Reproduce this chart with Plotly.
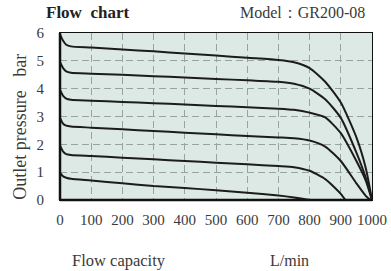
import plotly.graph_objects as go

# Flow capacity (L/min) and outlet pressure (bar) for each set pressure curve
x_6bar = [0, 10, 20, 35, 100, 200, 300, 400, 500, 600, 700, 750, 800, 850, 900, 950, 980, 1000]
p_6bar = [5.95, 5.72, 5.58, 5.52, 5.48, 5.41, 5.34, 5.26, 5.19, 5.11, 5.03, 4.95, 4.74, 4.25, 3.5, 2.25, 1.15, 0]

x_5bar = [0, 10, 20, 35, 100, 200, 300, 400, 500, 600, 700, 750, 800, 850, 900, 950, 980, 1000]
p_5bar = [4.95, 4.74, 4.62, 4.57, 4.54, 4.50, 4.45, 4.40, 4.35, 4.30, 4.25, 4.18, 4.0, 3.62, 2.95, 1.7, 0.8, 0]

x_4bar = [0, 10, 20, 35, 100, 200, 300, 400, 500, 600, 700, 750, 800, 850, 900, 950, 980, 1000]
p_4bar = [3.95, 3.74, 3.64, 3.60, 3.57, 3.52, 3.48, 3.43, 3.38, 3.33, 3.28, 3.24, 3.14, 2.97, 2.4, 1.4, 0.7, 0]

x_3bar = [0, 10, 20, 35, 100, 200, 300, 400, 500, 600, 700, 750, 800, 850, 900, 950, 980, 995]
p_3bar = [2.95, 2.74, 2.67, 2.64, 2.60, 2.54, 2.48, 2.42, 2.36, 2.30, 2.25, 2.22, 2.14, 1.92, 1.4, 0.6, 0.15, 0]

x_2bar = [0, 10, 20, 35, 100, 200, 300, 400, 500, 600, 700, 750, 800, 850, 880, 900, 915]
p_2bar = [1.95, 1.74, 1.65, 1.62, 1.58, 1.52, 1.46, 1.40, 1.34, 1.28, 1.22, 1.18, 1.05, 0.75, 0.45, 0.22, 0]

x_1bar = [0, 10, 20, 35, 100, 200, 300, 400, 500, 600, 700, 750, 800]
p_1bar = [0.97, 0.85, 0.80, 0.76, 0.70, 0.60, 0.50, 0.43, 0.35, 0.26, 0.16, 0.09, 0]

x_ticks = [0, 100, 200, 300, 400, 500, 600, 700, 800, 900, 1000]
y_ticks = [0, 1, 2, 3, 4, 5, 6]

series = [(x_6bar, p_6bar), (x_5bar, p_5bar), (x_4bar, p_4bar),
          (x_3bar, p_3bar), (x_2bar, p_2bar), (x_1bar, p_1bar)]

FONT = "Liberation Serif"
TXT = "#3a3a3a"

fig = go.Figure()
for xs, ps in series:
    fig.add_trace(go.Scatter(x=xs, y=ps, mode="lines",
                             line=dict(color="#1c1c1c", width=2, shape="spline", smoothing=0.6),
                             showlegend=False, hoverinfo="skip"))

grid = dict(showgrid=True, gridcolor="#98a29e", gridwidth=1, griddash="7px,4px")

fig.update_layout(
    width=391, height=271,
    margin=dict(l=60, r=19, t=33, b=71, autoexpand=False),
    paper_bgcolor="white",
    plot_bgcolor="#dde9e4",
    font=dict(family=FONT, color=TXT, size=14),
    xaxis=dict(range=[0, 1000], tickvals=x_ticks, ticktext=[str(v) for v in x_ticks],
               showline=True, linecolor="#111", linewidth=1, mirror=True, automargin=False,
               ticks="", ticklabelstandoff=6, zeroline=False,
               tickfont=dict(family=FONT, size=15, color=TXT), **grid),
    yaxis=dict(range=[0, 6], tickvals=y_ticks, ticktext=[str(v) for v in y_ticks],
               showline=True, linecolor="#111", linewidth=1, mirror=True, automargin=False,
               ticks="", ticklabelstandoff=12, zeroline=False,
               tickfont=dict(family=FONT, size=15, color=TXT), **grid),
    shapes=[
        dict(type="line", xref="paper", yref="paper", x0=0, x1=0, y0=0, y1=1,
             line=dict(color="#111", width=2.5)),
        dict(type="line", xref="paper", yref="paper", x0=0, x1=1, y0=0, y1=0,
             line=dict(color="#111", width=2.5)),
    ],
    annotations=[
        dict(text="<b>Flow  chart</b>", xref="paper", yref="paper", x=-0.05, y=1.125,
             xanchor="left", yanchor="middle", showarrow=False,
             font=dict(family=FONT, size=17, color="#222")),
        dict(text="Model：GR200-08", xref="paper", yref="paper", x=0.985, y=1.12,
             xanchor="right", yanchor="middle", showarrow=False,
             font=dict(family=FONT, size=16, color=TXT)),
        dict(text="Outlet pressure&nbsp;&nbsp;&nbsp;bar", xref="paper", yref="paper",
             x=-0.131, y=0.44, textangle=-90, xanchor="center", yanchor="middle",
             showarrow=False, font=dict(family=FONT, size=18, color=TXT)),
        dict(text="Flow capacity", xref="paper", yref="paper", x=0.19, y=-0.36,
             xanchor="center", yanchor="middle", showarrow=False,
             font=dict(family=FONT, size=16.5, color=TXT)),
        dict(text="L/min", xref="paper", yref="paper", x=0.737, y=-0.36,
             xanchor="center", yanchor="middle", showarrow=False,
             font=dict(family=FONT, size=16, color=TXT)),
    ],
)

fig.write_html("out.html", config={"displayModeBar": False},
               post_script="document.body.style.margin='0';document.body.style.padding='0';")
